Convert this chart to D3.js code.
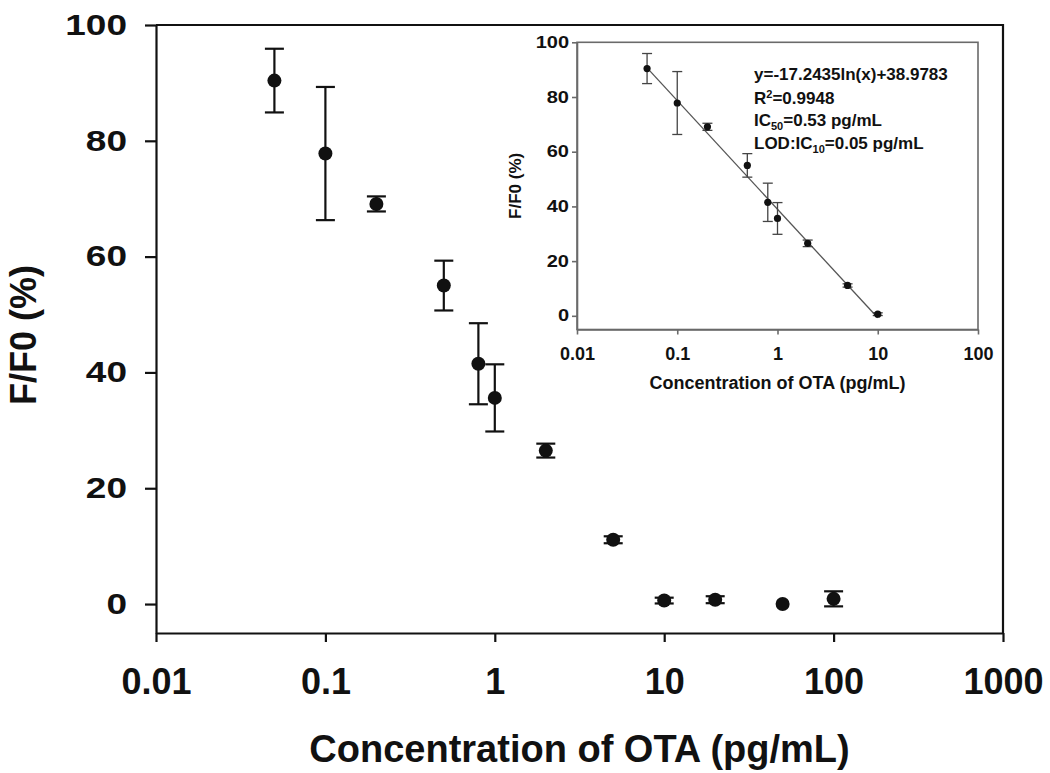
<!DOCTYPE html>
<html>
<head>
<meta charset="utf-8">
<script src="https://cdn.jsdelivr.net/npm/d3@7"></script>
<style>
  html, body { margin: 0; padding: 0; background: #fff; }
  svg { display: block; }
  text { font-family: "Liberation Sans", Arial, sans-serif; font-weight: bold; fill: #111; }
</style>
</head>
<body>
<svg id="chart" width="1050" height="773"></svg>
<script>
// ---- data ----
const concentrations = [0.05, 0.1, 0.2, 0.5, 0.8, 1, 2, 5, 10, 20, 50, 100];
const ratioValues    = [90.4, 77.8, 69.1, 55.0, 41.5, 35.6, 26.5, 11.1, 0.6, 0.75, 0.0, 0.9];
const ratioErrors    = [5.5, 11.5, 1.3, 4.3, 7.0, 5.8, 1.2, 0.6, 0.5, 0.6, 0.0, 1.3];
const xTickValues    = [0.01, 0.1, 1, 10, 100, 1000];
const xTickLabels    = ["0.01", "0.1", "1", "10", "100", "1000"];
const yTickValues    = [0, 20, 40, 60, 80, 100];
const insetXTicks    = [0.01, 0.1, 1, 10, 100];
const insetXLabels   = ["0.01", "0.1", "1", "10", "100"];
const insetMaxConc   = 10;
const fitSlope       = -17.2435;
const fitIntercept   = 38.9783;
const fitRange       = [0.05, 10];
const xTitle = "Concentration of OTA (pg/mL)";
const yTitle = "F/F0 (%)";

const svg = d3.select("#chart");
const pts = concentrations.map((c, i) => ({x: c, y: ratioValues[i], e: ratioErrors[i]}));

// ---- main plot ----
const M = {left: 156, right: 1003, top: 25, bottom: 633};
const x = d3.scaleLog().domain([0.01, 1000]).range([M.left, M.right]);
const y = d3.scaleLinear().domain([-5, 100]).range([M.bottom, M.top]);

// frame top/right
svg.append("path")
  .attr("d", `M${M.left},${M.top}H${M.right}V${M.bottom}`)
  .attr("fill", "none").attr("stroke", "#111").attr("stroke-width", 2.2);

const gx = svg.append("g").attr("transform", `translate(0,${M.bottom})`)
  .call(d3.axisBottom(x).tickValues(xTickValues).tickFormat((d, i) => xTickLabels[i])
        .tickSize(9).tickPadding(26).tickSizeOuter(0));
const gy = svg.append("g").attr("transform", `translate(${M.left},0)`)
  .call(d3.axisLeft(y).tickValues(yTickValues).tickSize(11).tickPadding(18).tickSizeOuter(0));
[gx, gy].forEach(g => {
  g.select(".domain").attr("stroke", "#111").attr("stroke-width", 2.2);
  g.selectAll(".tick line").attr("stroke", "#111").attr("stroke-width", 2.2);
  g.selectAll("text").attr("fill", "#111").style("font-family", '"Liberation Sans", Arial, sans-serif')
    .style("font-weight", "bold");
});
gx.selectAll("text").style("font-size", "36px");
gy.selectAll("text").style("font-size", "37px").attr("transform", "scale(1,0.79)");

svg.append("text").attr("x", (M.left + M.right) / 2).attr("y", 762)
  .attr("text-anchor", "middle").style("font-size", "38px").text(xTitle);
svg.append("text").attr("transform", `translate(36,${(M.top + M.bottom) / 2 + 6}) rotate(-90)`)
  .attr("text-anchor", "middle").style("font-size", "36px").text(yTitle);

// error bars
const eg = svg.append("g").attr("stroke", "#111").attr("stroke-width", 2.2);
pts.forEach(p => {
  if (p.e <= 0) return;
  const cx = x(p.x), t = y(p.y + p.e), b = y(p.y - p.e);
  eg.append("line").attr("x1", cx).attr("x2", cx).attr("y1", t).attr("y2", b);
  eg.append("line").attr("x1", cx - 9.5).attr("x2", cx + 9.5).attr("y1", t).attr("y2", t);
  eg.append("line").attr("x1", cx - 9.5).attr("x2", cx + 9.5).attr("y1", b).attr("y2", b);
});
svg.append("g").selectAll("circle").data(pts).join("circle")
  .attr("cx", d => x(d.x)).attr("cy", d => y(d.y)).attr("r", 7).attr("fill", "#111");

// ---- inset ----
const I = {left: 577, right: 978, top: 42.3, bottom: 329.5};
const ix = d3.scaleLog().domain([0.01, 100]).range([I.left, I.right]);
const iy = d3.scaleLinear().domain([-5, 100]).range([I.bottom, I.top]);
const gray = "#6a6a6a";

svg.append("rect").attr("x", I.left).attr("y", I.top)
  .attr("width", I.right - I.left).attr("height", I.bottom - I.top)
  .attr("fill", "#fff").attr("stroke", gray).attr("stroke-width", 1.6);

const igx = svg.append("g").attr("transform", `translate(0,${I.bottom})`)
  .call(d3.axisBottom(ix).tickValues(insetXTicks).tickFormat((d, i) => insetXLabels[i])
        .tickSize(5).tickPadding(13).tickSizeOuter(0));
const igy = svg.append("g").attr("transform", `translate(${I.left},0)`)
  .call(d3.axisLeft(iy).tickValues(yTickValues).tickSize(5).tickPadding(3).tickSizeOuter(0));
[igx, igy].forEach(g => {
  g.select(".domain").attr("stroke", gray).attr("stroke-width", 1.6);
  g.selectAll(".tick line").attr("stroke", gray).attr("stroke-width", 1.6);
  g.selectAll("text").attr("fill", "#111").style("font-family", '"Liberation Sans", Arial, sans-serif')
    .style("font-weight", "bold");
});
igx.selectAll("text").style("font-size", "18px");
igy.selectAll("text").style("font-size", "20px").attr("transform", "scale(1,0.8)");

svg.append("text").attr("x", (I.left + I.right) / 2).attr("y", 389)
  .attr("text-anchor", "middle").style("font-size", "18px").text(xTitle);
svg.append("text").attr("transform", `translate(521,${(I.top + I.bottom) / 2}) rotate(-90)`)
  .attr("text-anchor", "middle").style("font-size", "17px").text(yTitle);

// fit line
svg.append("line")
  .attr("x1", ix(fitRange[0])).attr("y1", iy(fitSlope * Math.log(fitRange[0]) + fitIntercept))
  .attr("x2", ix(fitRange[1])).attr("y2", iy(fitSlope * Math.log(fitRange[1]) + fitIntercept))
  .attr("stroke", "#555").attr("stroke-width", 1.3);

const ipts = pts.filter(p => p.x <= insetMaxConc);
const ieg = svg.append("g").attr("stroke", "#444").attr("stroke-width", 1.3);
ipts.forEach(p => {
  if (p.e <= 0) return;
  const cx = ix(p.x), t = iy(p.y + p.e), b = iy(p.y - p.e);
  ieg.append("line").attr("x1", cx).attr("x2", cx).attr("y1", t).attr("y2", b);
  ieg.append("line").attr("x1", cx - 5).attr("x2", cx + 5).attr("y1", t).attr("y2", t);
  ieg.append("line").attr("x1", cx - 5).attr("x2", cx + 5).attr("y1", b).attr("y2", b);
});
svg.append("g").selectAll("circle").data(ipts).join("circle")
  .attr("cx", d => ix(d.x)).attr("cy", d => iy(d.y)).attr("r", 3.6).attr("fill", "#111");

// annotation
const ann = svg.append("g").attr("transform", "translate(754,0)").style("font-size", "17px");
const t1 = ann.append("text").attr("y", 80).text("y=-17.2435ln(x)+38.9783");
const t2 = ann.append("text").attr("y", 104);
t2.append("tspan").text("R");
t2.append("tspan").attr("dy", -6).style("font-size", "11px").text("2");
t2.append("tspan").attr("dy", 6).text("=0.9948");
const t3 = ann.append("text").attr("y", 126);
t3.append("tspan").text("IC");
t3.append("tspan").attr("dy", 4).style("font-size", "11px").text("50");
t3.append("tspan").attr("dy", -4).text("=0.53 pg/mL");
const t4 = ann.append("text").attr("y", 149);
t4.append("tspan").text("LOD:IC");
t4.append("tspan").attr("dy", 4).style("font-size", "11px").text("10");
t4.append("tspan").attr("dy", -4).text("=0.05 pg/mL");
</script>
</body>
</html>
